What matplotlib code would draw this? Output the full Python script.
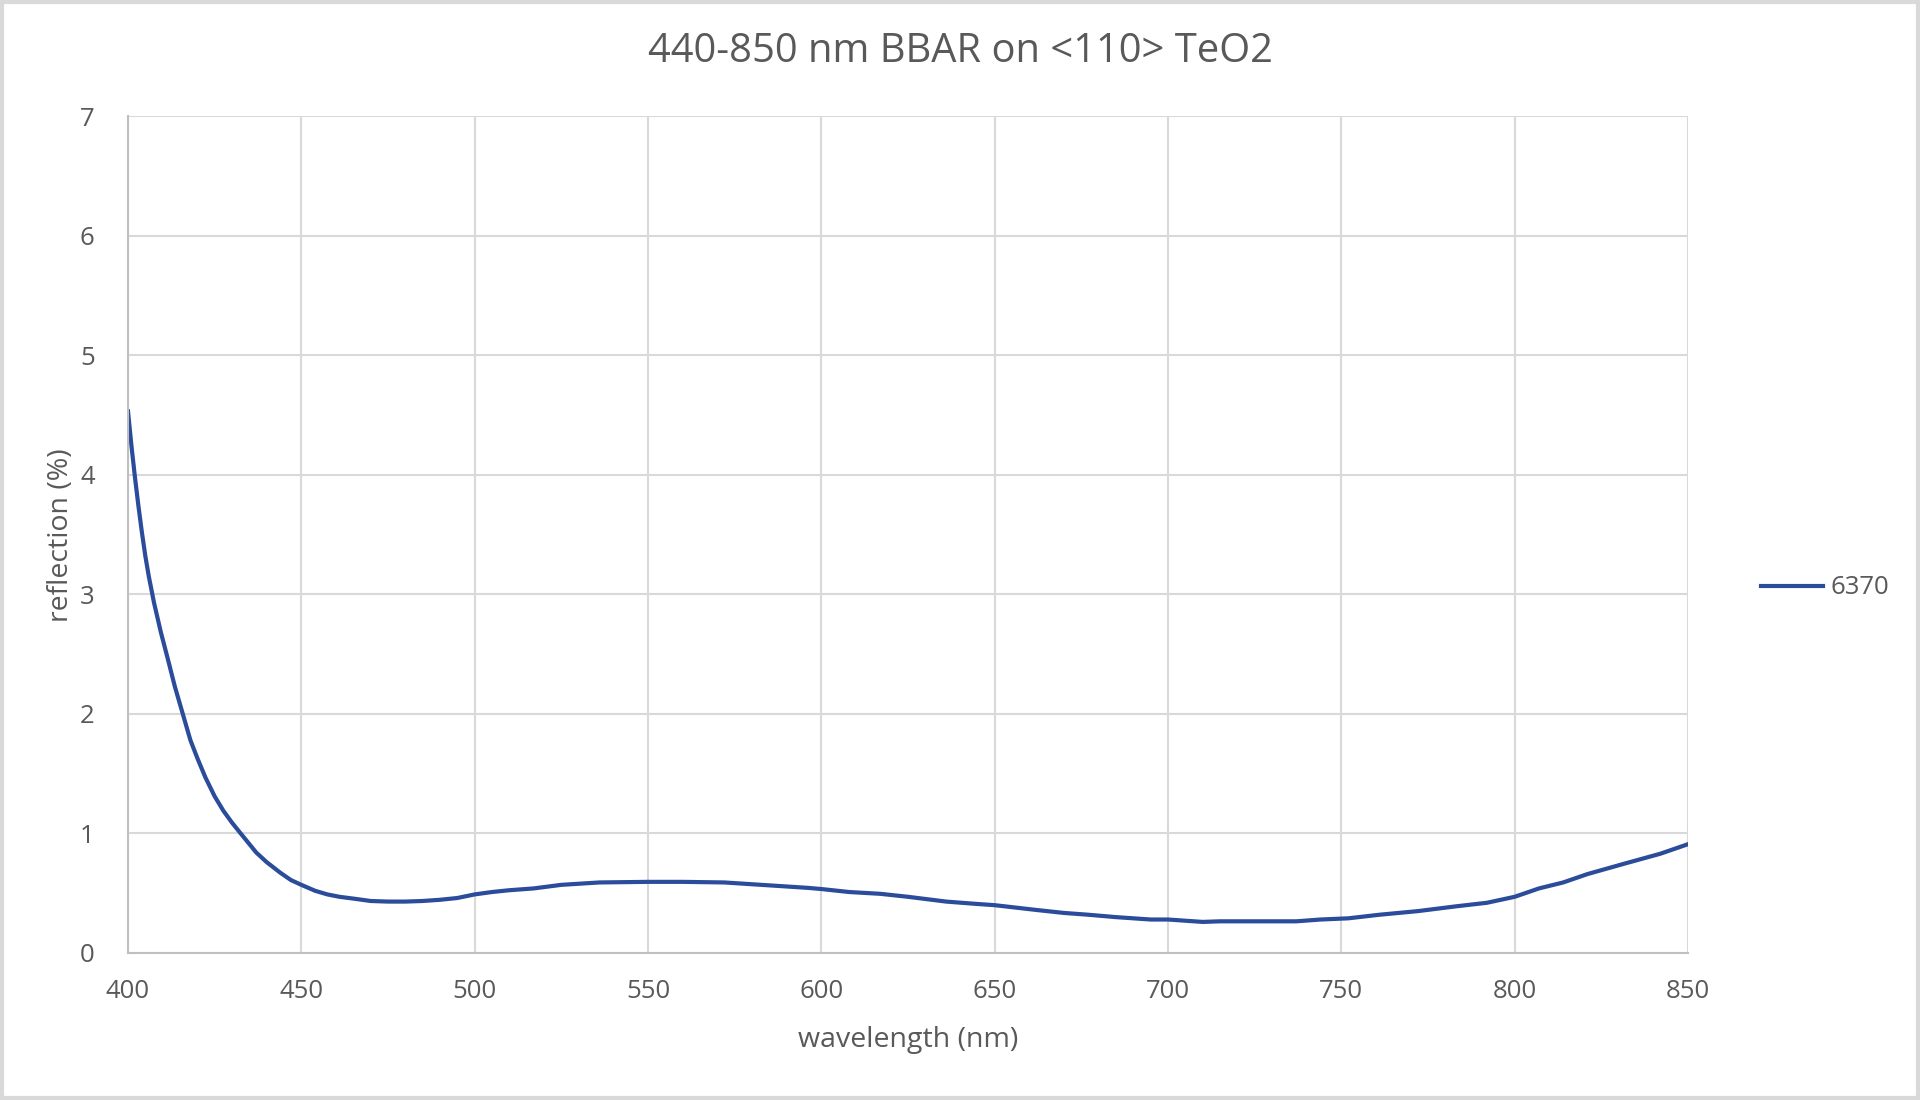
import matplotlib
matplotlib.use('Agg')
import matplotlib.pyplot as plt
from matplotlib.patches import Rectangle

plt.rcParams['font.family'] = ['Open Sans', 'DejaVu Sans']

# reflection spectrum
wavelength = [400, 401, 402, 403, 404, 405, 406, 407.5, 409.5, 411.3, 413.5, 415.8,
              418, 420, 422.3, 425, 427.5, 430, 432.5, 437, 440, 444,
              447, 450, 454, 457.5, 461, 465, 470, 475, 480, 485,
              490, 495, 500, 505, 510, 517, 525, 536, 550, 560,
              572, 580, 588, 596, 600, 608, 617, 625, 636, 645,
              650, 656, 662, 670, 677, 685, 695, 700, 705, 710,
              715, 725, 737, 744, 752, 761, 772, 783, 792, 800,
              807, 814, 821, 832, 842, 850]
reflection = [4.53, 4.24, 3.98, 3.74, 3.52, 3.32, 3.15, 2.93, 2.68, 2.48, 2.23, 2.00,
              1.78, 1.63, 1.47, 1.31, 1.19, 1.09, 1.00, 0.84, 0.76, 0.67,
              0.61, 0.57, 0.52, 0.49, 0.47, 0.455, 0.435, 0.43, 0.43, 0.435,
              0.445, 0.46, 0.49, 0.51, 0.525, 0.54, 0.57, 0.59, 0.595, 0.595,
              0.59, 0.575, 0.56, 0.545, 0.535, 0.51, 0.495, 0.47, 0.43, 0.41,
              0.40, 0.38, 0.36, 0.335, 0.32, 0.30, 0.28, 0.28, 0.27, 0.26,
              0.265, 0.265, 0.265, 0.28, 0.29, 0.32, 0.35, 0.39, 0.42, 0.47,
              0.54, 0.59, 0.66, 0.75, 0.83, 0.91]
series_name = '6370'
xticks = [400, 450, 500, 550, 600, 650, 700, 750, 800, 850]
yticks = [0, 1, 2, 3, 4, 5, 6, 7]

txt = '#595959'
grid = '#D9D9D9'

fig = plt.figure(figsize=(19.2, 11), dpi=100)
ax = fig.add_axes([128/1920, 1-953/1100, 1560/1920, 837/1100])

ax.plot(wavelength, reflection, color='#2B4C9B', lw=3, label=series_name)

ax.set_xlim(400, 850)
ax.set_ylim(0, 7)
ax.set_xticks(xticks)
ax.set_yticks(yticks)
ax.grid(True, color=grid, lw=1.5)
ax.set_axisbelow(True)
for s in ['top', 'right']:
    ax.spines[s].set_visible(False)
for s in ['left', 'bottom']:
    ax.spines[s].set_color('#BFBFBF')
    ax.spines[s].set_linewidth(1.5)
ax.tick_params(length=0, labelsize=18.5, labelcolor=txt)
ax.tick_params(axis='x', pad=19)
ax.tick_params(axis='y', pad=24)

fig.text(0.5, 1-52/1100, '440-850 nm BBAR on <110> TeO2', ha='center', va='center',
         fontsize=28.7, color=txt)
fig.text(908/1920, 1-1040/1100, 'wavelength (nm)', ha='center', va='center',
         fontsize=20.5, color=txt)
fig.text(61/1920, 1-535/1100, 'reflection (%)', ha='center', va='center',
         rotation=90, fontsize=20.5, color=txt)

ax.legend(loc='center left', bbox_to_anchor=(1738/1920, 1-588/1100),
          bbox_transform=fig.transFigure, frameon=False, fontsize=18.5,
          labelcolor=txt, handlelength=2.4, handletextpad=0.3)

fig.patches.append(Rectangle((0.001, 0.002), 0.998, 0.996, transform=fig.transFigure,
                             fill=False, edgecolor=grid, lw=3))

fig.savefig('out.png', dpi=100)
